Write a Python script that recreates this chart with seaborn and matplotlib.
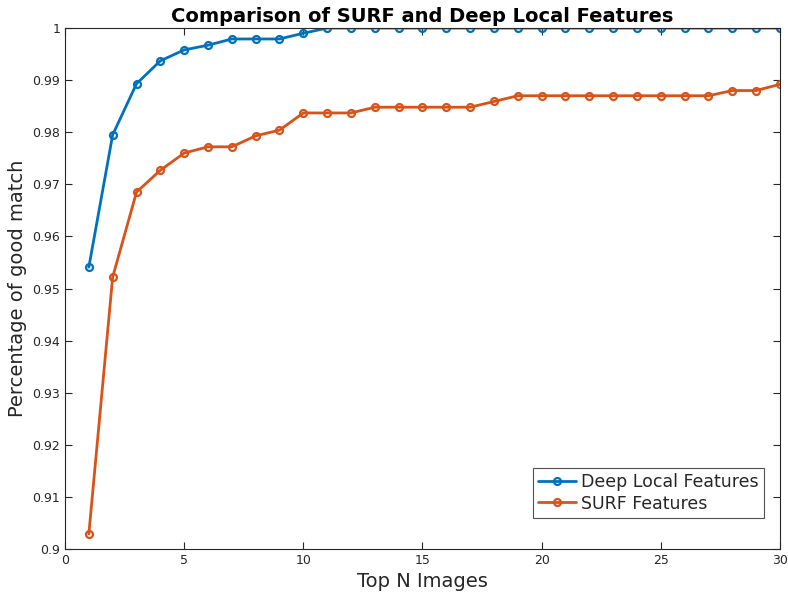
import numpy as np
import pandas as pd
import matplotlib
matplotlib.use("Agg")
import matplotlib.pyplot as plt
import seaborn as sns

top_n = list(range(1, 31))
deep_local = [0.9541, 0.9795, 0.9893, 0.9937, 0.9958, 0.9967, 0.9979, 0.9979, 0.9979, 0.9990,
              1.0, 1.0, 1.0, 1.0, 1.0, 1.0, 1.0, 1.0, 1.0, 1.0,
              1.0, 1.0, 1.0, 1.0, 1.0, 1.0, 1.0, 1.0, 1.0, 1.0]
surf = [0.9029, 0.9522, 0.9685, 0.9727, 0.9760, 0.9772, 0.9772, 0.9793, 0.9804, 0.9837,
        0.9837, 0.9837, 0.9848, 0.9848, 0.9848, 0.9848, 0.9848, 0.9859, 0.9870, 0.9870,
        0.9870, 0.9870, 0.9870, 0.9870, 0.9870, 0.9870, 0.9870, 0.9880, 0.9880, 0.9892]
series_names = ["Deep Local Features", "SURF Features"]
colors = ["#0072BD", "#D95319"]
x_ticks = [0, 5, 10, 15, 20, 25, 30]
y_ticks = [0.9, 0.91, 0.92, 0.93, 0.94, 0.95, 0.96, 0.97, 0.98, 0.99, 1.0]
y_tick_labels = ["0.9", "0.91", "0.92", "0.93", "0.94", "0.95", "0.96", "0.97", "0.98", "0.99", "1"]

df = pd.DataFrame({
    "N": top_n * 2,
    "value": deep_local + surf,
    "series": [series_names[0]] * len(top_n) + [series_names[1]] * len(top_n),
})

sns.set_style("white")
plt.rcParams['font.family'] = ['DejaVu Sans']

fig = plt.figure(figsize=(7.88, 5.95), dpi=100)
ax = fig.add_axes([0.0825, 0.0773, 0.9073, 0.8756])

sns.lineplot(data=df, x="N", y="value", hue="series", palette=colors, ax=ax,
             marker="o", markersize=5, markerfacecolor="none", markeredgewidth=1.6,
             linewidth=2)
for line, c in zip(ax.lines, colors):
    line.set_markeredgecolor(c)

ax.set_xlim(0, 30)
ax.set_ylim(0.9, 1.0)
ax.set_xticks(x_ticks)
ax.set_yticks(y_ticks)
ax.set_yticklabels(y_tick_labels)
ax.tick_params(direction="in", length=5, width=0.8, labelsize=9, colors="#262626",
               top=True, right=True, bottom=True, left=True)
for s in ax.spines.values():
    s.set_color("#262626")
    s.set_linewidth(0.8)

ax.set_xlabel("Top N Images", fontsize=14, color="#262626")
ax.set_ylabel("Percentage of good match", fontsize=14, color="#262626")
ax.set_title("Comparison of SURF and Deep Local Features", fontsize=14, fontweight="bold",
             pad=4, color="black")

leg = ax.legend(loc="lower right", bbox_to_anchor=(0.978, 0.06), borderaxespad=0,
                fontsize=12.5, frameon=True, fancybox=False,
                edgecolor="#262626", handlelength=2.2, handletextpad=0.3,
                borderpad=0.3, labelspacing=0.2)
leg.get_frame().set_linewidth(0.8)
for h, c in zip(leg.legend_handles, colors):
    h.set_linestyle("-")
    h.set_linewidth(2)
    h.set_color(c)
    h.set_marker("o")
    h.set_markersize(5)
    h.set_markerfacecolor("none")
    h.set_markeredgecolor(c)
    h.set_markeredgewidth(1.6)

fig.savefig("out.png", dpi=100)
